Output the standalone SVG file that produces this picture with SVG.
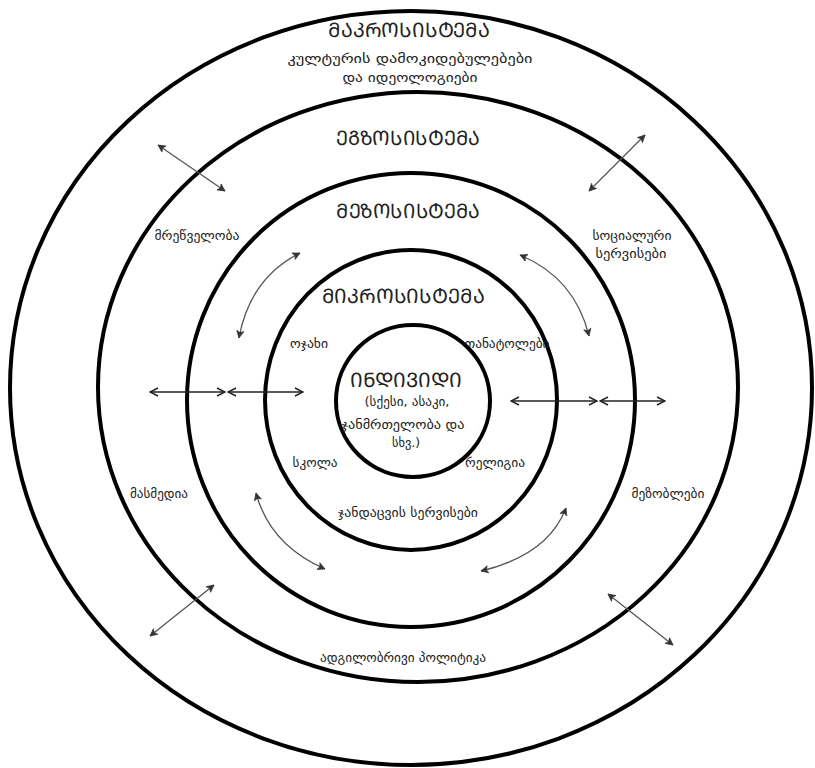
<svg xmlns="http://www.w3.org/2000/svg" width="815" height="768" viewBox="0 0 815 768">
<style>
.ring{fill:none;stroke:#000;stroke-width:4}
.t{font-family:"DejaVu Sans","Noto Sans",sans-serif;fill:#222;text-anchor:middle}
.title{font-size:20px}
.lab{font-size:13px}
.g{fill:none;stroke:#555;stroke-width:1.3;marker-start:url(#ah);marker-end:url(#ah)}
.h{fill:none;stroke:#222;stroke-width:1.5;marker-start:url(#hv);marker-end:url(#hv)}
</style>
<defs>
<marker id="ah" viewBox="0 0 10 10" refX="9" refY="5" markerWidth="9" markerHeight="9" markerUnits="userSpaceOnUse" orient="auto-start-reverse">
<path d="M1,1 L9,5 L1,9 L3,5 Z" fill="#333" stroke="#333" stroke-width="0.8"/>
</marker>
<marker id="hv" viewBox="0 0 10 10" refX="9" refY="5" markerWidth="10" markerHeight="10" markerUnits="userSpaceOnUse" orient="auto-start-reverse">
<path d="M1,1 L9,5 L1,9" fill="none" stroke="#222" stroke-width="1.4"/>
</marker>
</defs>
<rect width="815" height="768" fill="#fff"/>
<g id="macrosystem">
<ellipse class="ring" cx="411" cy="388" rx="401" ry="377"/>
<text class="t title" x="409" y="37" textLength="162" lengthAdjust="spacingAndGlyphs">ᲛᲐᲙᲠᲝᲡᲘᲡᲢᲔᲛᲐ</text>
<text class="t lab" x="410" y="63" textLength="245" lengthAdjust="spacingAndGlyphs">კულტურის დამოკიდებულებები</text>
<text class="t lab" x="410" y="82" textLength="135" lengthAdjust="spacingAndGlyphs">და იდეოლოგიები</text>
<text class="t lab" x="197" y="240" textLength="85" lengthAdjust="spacingAndGlyphs">მრეწველობა</text>
<text class="t lab" x="632" y="240" textLength="79" lengthAdjust="spacingAndGlyphs">სოციალური</text>
<text class="t lab" x="631" y="258" textLength="71" lengthAdjust="spacingAndGlyphs">სერვისები</text>
<text class="t lab" x="159" y="498" textLength="58" lengthAdjust="spacingAndGlyphs">მასმედია</text>
<text class="t lab" x="668" y="498" textLength="73" lengthAdjust="spacingAndGlyphs">მეზობლები</text>
<text class="t lab" x="403" y="662" textLength="166" lengthAdjust="spacingAndGlyphs">ადგილობრივი პოლიტიკა</text>
</g>
<g id="exosystem">
<ellipse class="ring" cx="418" cy="387" rx="320" ry="295"/>
<text class="t title" x="408" y="145" textLength="144" lengthAdjust="spacingAndGlyphs">ᲔᲒᲖᲝᲡᲘᲡᲢᲔᲛᲐ</text>
</g>
<g id="mesosystem">
<ellipse class="ring" cx="411" cy="400" rx="224" ry="227"/>
<text class="t title" x="408" y="218" textLength="144" lengthAdjust="spacingAndGlyphs">ᲛᲔᲖᲝᲡᲘᲡᲢᲔᲛᲐ</text>
</g>
<g id="microsystem">
<ellipse class="ring" cx="411" cy="400" rx="146" ry="150"/>
<text class="t title" x="403" y="303" textLength="163" lengthAdjust="spacingAndGlyphs">ᲛᲘᲙᲠᲝᲡᲘᲡᲢᲔᲛᲐ</text>
<text class="t lab" x="309" y="348" textLength="38" lengthAdjust="spacingAndGlyphs">ოჯახი</text>
<text class="t lab" x="507" y="348" textLength="85" lengthAdjust="spacingAndGlyphs">თანატოლები</text>
<text class="t lab" x="315" y="467" textLength="45" lengthAdjust="spacingAndGlyphs">სკოლა</text>
<text class="t lab" x="495" y="467" textLength="60" lengthAdjust="spacingAndGlyphs">რელიგია</text>
<text class="t lab" x="408" y="517" textLength="140" lengthAdjust="spacingAndGlyphs">ჯანდაცვის სერვისები</text>
</g>
<g id="individual">
<ellipse class="ring" cx="413" cy="401" rx="77" ry="76"/>
<text class="t title" x="406" y="387" textLength="112" lengthAdjust="spacingAndGlyphs">ᲘᲜᲓᲘᲕᲘᲓᲘ</text>
<text class="t lab" x="407" y="406" textLength="85" lengthAdjust="spacingAndGlyphs">(სქესი, ასაკი,</text>
<text class="t lab" x="403" y="429" textLength="123" lengthAdjust="spacingAndGlyphs">ჯანმრთელობა და</text>
<text class="t lab" x="406" y="447" textLength="28" lengthAdjust="spacingAndGlyphs">სხვ.)</text>
</g>
<g id="connectors">
<line class="h" x1="150" y1="392" x2="225" y2="392"/>
<line class="h" x1="228" y1="392" x2="303" y2="392"/>
<line class="h" x1="511" y1="401" x2="597" y2="401"/>
<line class="h" x1="600" y1="401" x2="665" y2="401"/>
<line class="g" x1="158" y1="145" x2="225" y2="191"/>
<line class="g" x1="645" y1="135" x2="589" y2="191"/>
<line class="g" x1="214" y1="585" x2="150" y2="636"/>
<line class="g" x1="608" y1="594" x2="673" y2="645"/>
<path class="g" d="M239,338 Q250,278 300,253"/>
<path class="g" d="M520,255 Q575,278 589,336"/>
<path class="g" d="M256,493 Q270,545 325,569"/>
<path class="g" d="M566,508 Q548,555 481,571"/>
</g>
</svg>
